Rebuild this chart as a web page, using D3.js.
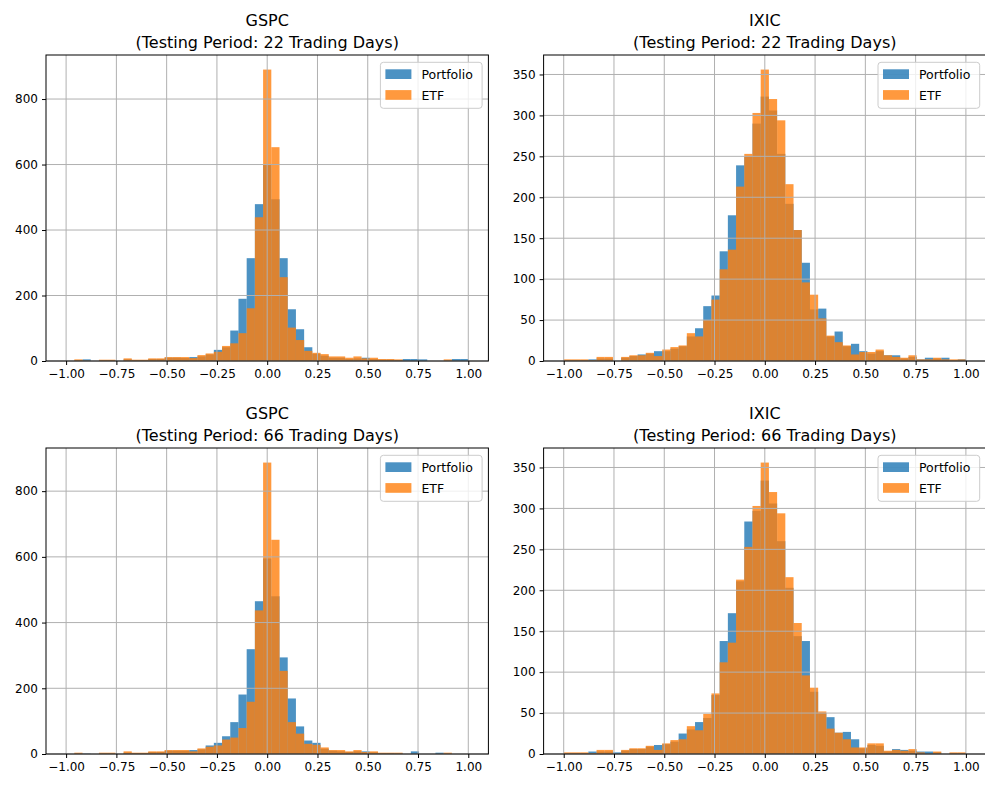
<!DOCTYPE html>
<html>
<head>
<meta charset="utf-8">
<script src="https://cdn.jsdelivr.net/npm/d3@7"></script>
<style>
  body { margin: 0; background: #fff; }
  text { font-family: "DejaVu Sans", sans-serif; }
</style>
</head>
<body>
<svg id="chart" width="985" height="787"></svg>
<script>
// histogram bins: 49 equal bins between -1 and 1
let binCount = 49;
let binMin = -1;
let binMax = 1;

let xTicks = [-1, -0.75, -0.5, -0.25, 0, 0.25, 0.5, 0.75, 1];
let gspcTicks = [0, 200, 400, 600, 800];
let ixicTicks = [0, 50, 100, 150, 200, 250, 300, 350];

let seriesNames = ['Portfolio', 'ETF'];

let gspc22Portfolio = [0,2,5,0,3,3,0,5,3,3, 6,6,10,10,9,12,14,20,34,42, 93,190,314,479,600,494,314,158,97,42, 22,16,10,10,6,8,10,6,4,4, 3,6,6,5,0,0,0,6,6];
let gspc22Etf = [0,5,1,0,4,4,0,8,4,4, 8,8,12,12,12,9,18,23,28,46, 54,85,161,439,890,653,256,102,64,31, 25,21,14,14,10,14,8,10,6,6, 5,0,0,0,0,0,5,0,0];

let ixic22Portfolio = [1,1,1,2,3,3,0,4,6,8, 9,12,12,15,18,30,40,67,80,134, 178,239,250,290,323,306,253,192,160,120, 63,64,30,36,18,21,12,9,12,7, 7,3,5,2,4,3,4,1,2];
let ixic22Etf = [2,2,2,1,5,5,0,5,7,7, 10,6,14,17,19,34,30,50,75,112, 136,213,253,303,356,320,294,216,160,96, 81,52,31,23,19,8,11,11,14,7, 5,4,7,2,2,4,2,2,2];

let gspc66Portfolio = [0,1,1,0,2,2,0,4,3,3, 6,6,10,10,10,12,14,26,34,54, 97,181,319,465,595,480,294,169,84,41, 34,16,10,8,6,8,8,5,3,3, 2,0,8,0,0,4,0,0,0];
let gspc66Etf = [0,4,0,0,4,4,0,8,4,4, 8,8,12,12,12,8,17,22,26,44, 50,79,159,437,887,652,253,97,62,31, 28,20,12,12,8,12,6,8,4,4, 4,0,0,0,0,0,4,0,0];

let ixic66Portfolio = [1,1,1,3,3,3,2,4,6,6, 9,11,12,15,25,30,39,44,72,138, 172,211,284,297,334,306,260,203,144,138, 76,50,45,26,27,18,7,11,10,3, 6,5,4,3,3,2,0,1,1];
let ixic66Etf = [2,2,2,1,5,5,0,5,7,7, 10,5,13,17,18,34,29,49,74,112, 136,213,253,303,356,320,294,216,160,96, 81,52,31,26,18,8,8,13,13,4, 5,4,6,2,0,3,0,2,2];

let panels = [
    { name: 'GSPC', period: '(Testing Period: 22 Trading Days)', portfolio: gspc22Portfolio, etf: gspc22Etf, yTicks: gspcTicks, left: 46, top: 55 },
    { name: 'IXIC', period: '(Testing Period: 22 Trading Days)', portfolio: ixic22Portfolio, etf: ixic22Etf, yTicks: ixicTicks, left: 543.6, top: 55 },
    { name: 'GSPC', period: '(Testing Period: 66 Trading Days)', portfolio: gspc66Portfolio, etf: gspc66Etf, yTicks: gspcTicks, left: 46, top: 448 },
    { name: 'IXIC', period: '(Testing Period: 66 Trading Days)', portfolio: ixic66Portfolio, etf: ixic66Etf, yTicks: ixicTicks, left: 543.6, top: 448 }
];

let colors = ['#1f77b4', '#ff7f0e'];
let axW = 442.4;
let axH = 306;
let svg = d3.select('#chart');
let edges = d3.range(binCount + 1).map(i => binMin + i * (binMax - binMin) / binCount);

let drawPanel = (p) => {
    let g = svg.append('g');
    let xScale = d3.scaleLinear()
        .domain([-1.1, 1.1])
        .range([p.left, p.left + axW]);
    let yMax = d3.max(p.portfolio.concat(p.etf)) * 1.05;
    let yScale = d3.scaleLinear()
        .domain([0, yMax])
        .range([p.top + axH, p.top]);

    // bars, portfolio first then etf on top
    [p.portfolio, p.etf].forEach((counts, si) => {
        g.append('g')
            .selectAll('rect')
            .data(counts.map((c, i) => ({ x0: edges[i], x1: edges[i + 1], c: c })).filter(d => d.c > 0))
            .enter()
            .append('rect')
            .attr('x', d => xScale(d.x0))
            .attr('width', d => xScale(d.x1) - xScale(d.x0))
            .attr('y', d => yScale(d.c))
            .attr('height', d => yScale(0) - yScale(d.c))
            .attr('fill', colors[si])
            .attr('fill-opacity', 0.8);
    });

    // grid sits over the bars like matplotlib
    let grid = g.append('g')
        .attr('stroke', '#b0b0b0')
        .attr('stroke-width', 1);
    grid.selectAll('.vx')
        .data(xTicks)
        .enter()
        .append('line')
        .attr('x1', d => xScale(d)).attr('x2', d => xScale(d))
        .attr('y1', p.top).attr('y2', p.top + axH);
    grid.selectAll('.hy')
        .data(p.yTicks)
        .enter()
        .append('line')
        .attr('x1', p.left).attr('x2', p.left + axW)
        .attr('y1', d => yScale(d)).attr('y2', d => yScale(d));

    let xAxis = d3.axisBottom(xScale)
        .tickValues(xTicks)
        .tickFormat(d3.format('.2f'))
        .tickSize(4)
        .tickPadding(4);
    let yAxis = d3.axisLeft(yScale)
        .tickValues(p.yTicks)
        .tickFormat(d3.format('d'))
        .tickSize(4)
        .tickPadding(4);

    let gx = g.append('g')
        .attr('transform', 'translate(0, ' + (p.top + axH) + ')')
        .call(xAxis);
    let gy = g.append('g')
        .attr('transform', 'translate(' + p.left + ', 0)')
        .call(yAxis);
    [gx, gy].forEach(a => {
        a.select('.domain').remove();
        a.attr('font-family', '"DejaVu Sans", sans-serif').attr('font-size', 12);
        a.selectAll('text').attr('fill', '#000');
    });

    g.append('rect')
        .attr('x', p.left).attr('y', p.top)
        .attr('width', axW).attr('height', axH)
        .attr('fill', 'none')
        .attr('stroke', '#000')
        .attr('stroke-width', 1);

    // title
    let cx = p.left + axW / 2;
    g.append('text')
        .attr('x', cx).attr('y', p.top - 29)
        .attr('text-anchor', 'middle')
        .attr('font-size', 16)
        .text(p.name);
    g.append('text')
        .attr('x', cx).attr('y', p.top - 7)
        .attr('text-anchor', 'middle')
        .attr('font-size', 16)
        .text(p.period);

    // legend
    let lx = p.left + axW - 108;
    let ly = p.top + 7.3;
    g.append('rect')
        .attr('x', lx).attr('y', ly)
        .attr('width', 101.7).attr('height', 46)
        .attr('rx', 3)
        .attr('fill', '#fff').attr('fill-opacity', 0.8)
        .attr('stroke', '#cccccc');
    seriesNames.forEach((s, i) => {
        g.append('rect')
            .attr('x', lx + 5).attr('y', ly + 7 + i * 20.8)
            .attr('width', 26).attr('height', 9.7)
            .attr('fill', colors[i]).attr('fill-opacity', 0.8);
        g.append('text')
            .attr('x', lx + 41).attr('y', ly + 16.5 + i * 20.8)
            .attr('font-size', 12.5)
            .text(s);
    });
};

panels.forEach(drawPanel);
</script>
</body>
</html>
